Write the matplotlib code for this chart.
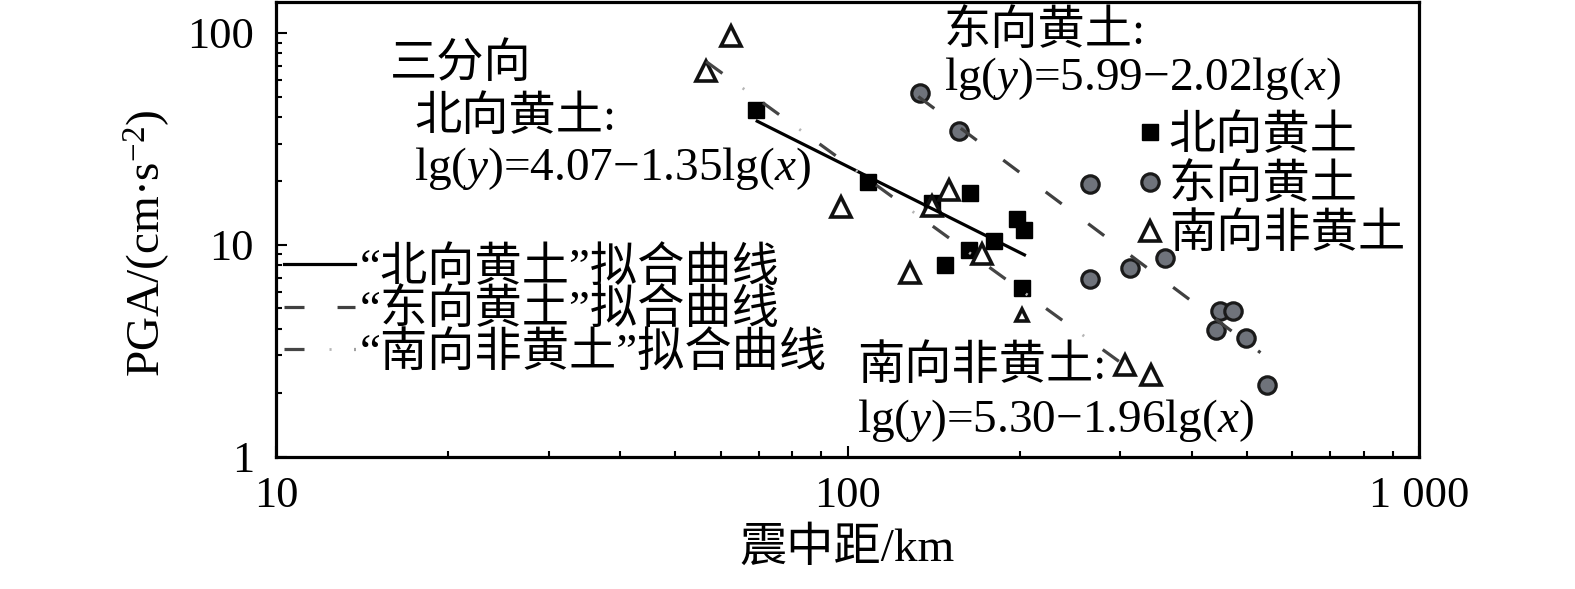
import numpy as np
import matplotlib.pyplot as plt
from matplotlib.ticker import FuncFormatter, LogLocator, NullFormatter

plt.rcParams['font.family'] = ['Liberation Serif', 'Noto Sans CJK SC']
plt.rcParams['mathtext.fontset'] = 'custom'
plt.rcParams['mathtext.rm'] = 'Liberation Serif'
plt.rcParams['mathtext.it'] = 'Liberation Serif:italic'
plt.rcParams['lines.scale_dashes'] = False

# ---- data ----
north_x = [69.2, 108.8, 140.4, 163.7, 198, 203.6, 180.3, 163, 148, 202]
north_y = [43.4, 19.7, 15.8, 17.5, 13.2, 11.8, 10.4, 9.42, 8.01, 6.24]

east_x = [133.7, 156.6, 265.9, 359.7, 312.4, 265.9, 447.7, 471.7, 440.5, 497.3, 541]
east_y = [52.2, 34.6, 19.3, 8.64, 7.75, 6.88, 4.86, 4.86, 3.96, 3.63, 2.18]

south_x = [62.6, 56.6, 97.6, 150.3, 140.4, 171.8, 128.5, 202, 306, 339]
south_y = [96.8, 66.2, 15.0, 18.2, 15.3, 9.03, 7.34, 4.66, 2.71, 2.43]

# fitted curves lg(y) = a + b*lg(x), drawn over [x0, x1]
north_fit = (4.07, -1.35, 69.5, 204)
east_fit = (5.99, -2.02, 133, 528)
south_fit = (5.30, -1.96, 56.6, 319)

series_names = ['北向黄土', '东向黄土', '南向非黄土']
fit_names = ['“北向黄土”拟合曲线', '“东向黄土”拟合曲线', '“南向非黄土”拟合曲线']
eq_north = ['三分向', '北向黄土:', 'lg($y$)=4.07−1.35lg($x$)']
eq_east = ['东向黄土:', 'lg($y$)=5.99−2.02lg($x$)']
eq_south = ['南向非黄土:', 'lg($y$)=5.30−1.96lg($x$)']


def fit_line(a, b, x0, x1):
    x = np.array([x0, x1])
    return x, 10 ** (a + b * np.log10(x))


W, H = 1575, 589
fig = plt.figure(figsize=(W / 100, H / 100), dpi=100)
ax = fig.add_axes([276 / W, 1 - 456.5 / H, (1419 - 276) / W, (456.5 - 2) / H])


def fxy(px, py):
    return px / W, 1 - py / H


# markers
small = 7
sq, = ax.plot(north_x, north_y, 's', ms=11, color='black', zorder=2)
ci, = ax.plot(east_x, east_y, 'o', ms=12.5, mfc='#6f737b', mec='#1a1a1a', mew=2.3, zorder=2)
big_x = [v for i, v in enumerate(south_x) if i != small]
big_y = [v for i, v in enumerate(south_y) if i != small]
tr, = ax.plot(big_x, big_y, '^', ms=14, mfc='white', mec='#111111', mew=2.6, zorder=2)
ax.plot(south_x[small], south_y[small], '^', ms=9, mfc='white', mec='#111111', mew=2.6, zorder=2)

# fitted lines
x, y = fit_line(*north_fit)
ln_n, = ax.plot(x, y, color='black', lw=2.3, zorder=3)
x, y = fit_line(*east_fit)
ln_e, = ax.plot(x, y, color='#404040', lw=2.3, dashes=(14.4, 23.8), zorder=3)
x, y = fit_line(*south_fit)
ln_s1, = ax.plot(x, y, color='#454545', lw=2.3, linestyle=(0, (14.4, 36)), zorder=3)
ln_s2, = ax.plot(x, y, color='#b5b5b5', lw=2, linestyle=(18, (1.5, 48.9)), zorder=3)

ax.set_xscale('log')
ax.set_yscale('log')
ax.set_xlim(10, 1000)
ax.set_ylim(1, 140)

ax.xaxis.set_major_locator(LogLocator(base=10, numticks=10))
ax.xaxis.set_minor_locator(LogLocator(base=10, subs=np.arange(2, 10), numticks=20))
ax.yaxis.set_major_locator(LogLocator(base=10, numticks=10))
ax.yaxis.set_minor_locator(LogLocator(base=10, subs=np.arange(2, 10), numticks=20))
ax.xaxis.set_major_formatter(FuncFormatter(lambda v, p: '1 000' if v >= 1000 else '%d' % v))
ax.yaxis.set_major_formatter(FuncFormatter(lambda v, p: '%d' % v))
ax.xaxis.set_minor_formatter(NullFormatter())
ax.yaxis.set_minor_formatter(NullFormatter())

ax.tick_params(which='both', direction='in', top=False, right=False, width=1.5, labelsize=32)
ax.tick_params(which='major', length=8)
ax.tick_params(which='minor', length=4.3)
ax.tick_params(axis='x', pad=14)
ax.tick_params(axis='y', pad=16)
for s in ax.spines.values():
    s.set_linewidth(2.3)

ax.set_xlabel('震中距/km', fontsize=34, labelpad=8)
ax.set_ylabel('PGA/(cm·s$^{-2}$)', fontsize=34)
ax.yaxis.set_label_coords(-0.091, 0.47)

# legends
leg1 = ax.legend([ln_n, ln_e, (ln_s1, ln_s2)], fit_names, loc='upper left',
                 bbox_to_anchor=fxy(284, 247), bbox_transform=fig.transFigure,
                 frameon=False, fontsize=34, handlelength=1.5, handletextpad=0.1,
                 borderpad=0, borderaxespad=0, labelspacing=-0.03)
ax.add_artist(leg1)
ax.legend([sq, ci, tr], series_names, loc='upper left',
          bbox_to_anchor=fxy(1138, 115), bbox_transform=fig.transFigure,
          frameon=False, fontsize=34, handlelength=0.5, handletextpad=0.15,
          borderpad=0, borderaxespad=0, labelspacing=0.115, numpoints=1)

# equation annotations
for (px, py), s in zip([(390, 65), (414, 118), (414, 169)], eq_north):
    fig.text(*fxy(px, py), s, fontsize=34, ha='left', va='center')
for (px, py), s in zip([(944, 32), (944, 78)], eq_east):
    fig.text(*fxy(px, py), s, fontsize=34, ha='left', va='center')
for (px, py), s in zip([(857, 367), (857, 420)], eq_south):
    fig.text(*fxy(px, py), s, fontsize=34, ha='left', va='center')

fig.savefig('out.png', dpi=100)
